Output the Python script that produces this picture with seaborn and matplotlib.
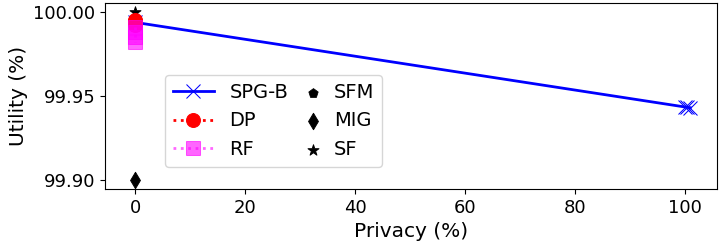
import numpy as np
import matplotlib
matplotlib.use("Agg")
import matplotlib.pyplot as plt
import seaborn as sns
from matplotlib.legend_handler import HandlerPathCollection

# privacy (%) vs utility (%) per method
spgb_privacy = [0.0, 100.0, 100.4, 100.9]
spgb_utility = [99.9939, 99.9434, 99.9432, 99.9430]
dp_privacy = [0.0, 0.0, 0.0, 0.0]
dp_utility = [99.9952, 99.9945, 99.9935, 99.9922]
rf_privacy = [0.0, 0.0, 0.0, 0.0]
rf_utility = [99.9909, 99.9880, 99.9850, 99.9823]
sfm_privacy = [0.0]
sfm_utility = [99.9940]
mig_privacy = [0.0]
mig_utility = [99.9000]
sf_privacy = [0.0]
sf_utility = [100.0000]


class RightMarker(HandlerPathCollection):
    # put the scatter marker near the label instead of the handle centre
    def get_xdata(self, legend, xdescent, ydescent, width, height, fontsize):
        return [-xdescent, -xdescent + width], [-xdescent + width - 0.25 * fontsize]


plt.rcParams['font.family'] = ['DejaVu Sans']

fig, ax = plt.subplots(figsize=(7.2, 2.42), dpi=100)

sns.lineplot(x=spgb_privacy, y=spgb_utility, estimator=None, sort=False, ax=ax,
             color="blue", linewidth=2, marker="x", markersize=10,
             markeredgecolor="blue", label="SPG-B")
sns.scatterplot(x=sfm_privacy, y=sfm_utility, ax=ax, color="black", marker="p",
                s=50, edgecolor="black", label="SFM")
sns.lineplot(x=dp_privacy, y=dp_utility, estimator=None, sort=False, ax=ax,
             color="red", linewidth=2, linestyle=":", marker="o", markersize=10,
             markeredgecolor="red", label="DP")
sns.lineplot(x=rf_privacy, y=rf_utility, estimator=None, sort=False, ax=ax,
             color="magenta", alpha=0.6, linewidth=2, linestyle=":", marker="s",
             markersize=10, markeredgecolor="magenta", label="RF")
sns.scatterplot(x=mig_privacy, y=mig_utility, ax=ax, color="black", marker="d",
                s=70, edgecolor="black", label="MIG")
sns.scatterplot(x=sf_privacy, y=sf_utility, ax=ax, color="black", marker="*",
                s=70, edgecolor="black", label="SF")

ax.set_xlim(-5.45, 105.8)
ax.set_ylim(99.8945, 100.0055)
ax.set_yticks([99.90, 99.95, 100.00])
ax.set_yticklabels(["99.90", "99.95", "100.00"])
ax.set_xticks([0, 20, 40, 60, 80, 100])
ax.tick_params(labelsize=13)
ax.set_xlabel("Privacy (%)", fontsize=14.5)
ax.set_ylabel("Utility (%)", fontsize=14.5)

handles, labels = ax.get_legend_handles_labels()
order = ["SPG-B", "DP", "RF", "SFM", "MIG", "SF"]
hmap = dict(zip(labels, handles))
ax.legend([hmap[k] for k in order], order, ncol=2, fontsize=14,
          loc="upper left", bbox_to_anchor=(0.098, 0.613), borderaxespad=0,
          columnspacing=-0.55, handlelength=2.1,
          handler_map={type(hmap["SF"]): RightMarker()})

fig.subplots_adjust(left=0.146, right=0.996, top=0.988, bottom=0.219)
fig.savefig("out.png", dpi=100)
